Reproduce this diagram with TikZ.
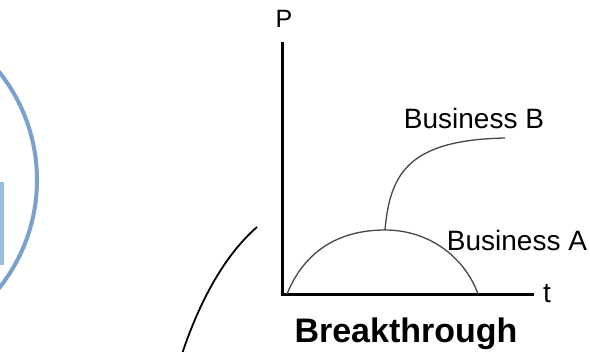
\documentclass[tikz,border=0pt]{standalone}
\usepackage{fontspec}
\setmainfont{Liberation Sans}
\definecolor{ringblue}{RGB}{123,160,205}
\definecolor{barblue}{RGB}{150,188,224}
\definecolor{curvegrey}{RGB}{70,70,70}
\tikzset{
  axisline/.style={line width=3pt, black},
  curveline/.style={line width=1.3pt, curvegrey},
  lbl/.style={inner sep=0pt, font=\fontsize{28}{30}\selectfont},
}
\begin{document}
\begin{tikzpicture}[x=1pt,y=-1pt]
\useasboundingbox (0,0) rectangle (590,352);
\clip (0,0) rectangle (590,352);
% left ring and bar
\fill[barblue] (0,182) rectangle (4,265);
\draw[ringblue, line width=4pt] (-136,180) circle (173);
% black sweeping curve
\coordinate (c0) at (182,354);
\coordinate (c1) at (257,227);
\draw[line width=1.8pt] (c0) .. controls (200,300) and (225,255) .. (c1);
% axes
\coordinate (orig) at (282,295);
\coordinate (ytop) at (282,42);
\coordinate (xend) at (534,295);
\draw[axisline] (ytop) -- (orig) -- (xend);
\node[lbl, font=\fontsize{25}{27}\selectfont] (P) at (284,19) {P};
\node[lbl] (t) at (547,294) {t};
% curves
\coordinate (a0) at (287,294);
\coordinate (peak) at (385,230);
\coordinate (a1) at (478,294);
\coordinate (b1) at (505,138);
\draw[curveline] (a0) .. controls (305,250) and (340,230) .. (peak) .. controls (430,230) and (465,258) .. (a1);
\draw[curveline] (peak) .. controls (390,172) and (410,140) .. (b1);
\node[lbl] (busB) at (474,118) {Business B};
\node[lbl] (busA) at (517,240) {Business A};
\node[inner sep=0pt, font=\fontsize{34}{36}\selectfont\bfseries] (brk) at (406,334) {Breakthrough};
\end{tikzpicture}
\end{document}
